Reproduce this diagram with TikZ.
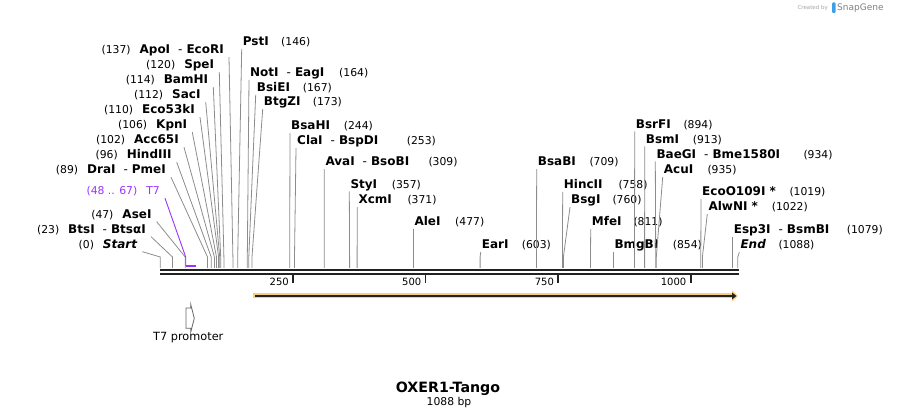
\documentclass[tikz,border=0pt]{standalone}
\usepackage{fontspec}
\setmainfont{DejaVu Sans}
\usetikzlibrary{arrows.meta}
\definecolor{leadgray}{RGB}{140,140,140}
\definecolor{seqdark}{RGB}{34,34,34}
\definecolor{tpurple}{RGB}{153,51,255}
\definecolor{tangoband}{RGB}{250,205,120}
\definecolor{snapblue}{RGB}{60,160,230}
\newcommand{\bpnum}[1]{{\mdseries\fontsize{10.8}{12}\selectfont(#1)}}
\newcommand{\enzdash}{\hspace{8pt}{\mdseries-}\hspace{4pt}}
\tikzset{rlab/.style={anchor=base west,inner xsep=1pt,inner ysep=0pt,text depth=3pt,font=\fontsize{12}{13}\selectfont\bfseries}}
\tikzset{llab/.style={anchor=base east,inner xsep=5pt,inner ysep=0pt,text depth=3pt,font=\fontsize{12}{13}\selectfont\bfseries}}
\tikzset{num/.style={anchor=base west,inner sep=0pt,font=\fontsize{10.8}{12}\selectfont}}
\tikzset{lead/.style={draw=leadgray,line width=0.8pt,to path={-- ([yshift=11pt]\tikztotarget) -- (\tikztotarget)}}}
\tikzset{seq/.style={draw=seqdark,line width=2.4pt}}
\tikzset{sctick/.style={draw=seqdark,line width=1.8pt}}
\tikzset{ticklab/.style={anchor=base east,inner sep=0pt,font=\fontsize{10}{12}\selectfont}}

\begin{document}
\begin{tikzpicture}[x=1pt,y=-1pt]
\useasboundingbox (0,0) rectangle (899,419);

% sequence
\coordinate (seqL) at (160,270);
\coordinate (seqR) at (738.5,270);
\draw[seq] (seqL) -- (seqR);
\draw[seq] ([yshift=-4.3pt]seqL) -- ([yshift=-4.3pt]seqR);

\coordinate (t250) at (292.9,275); \coordinate (t500) at (425.5,275);
\coordinate (t750) at (558.1,275); \coordinate (t1000) at (690.8,275);
\draw[sctick] (t250) -- ++(0,8);
\draw[sctick] (t500) -- ++(0,8);
\draw[sctick] (t750) -- ++(0,8);
\draw[sctick] (t1000) -- ++(0,8);
\node[ticklab] (l250) at (289,285.5) {250};
\node[ticklab] (l500) at (421.5,285.5) {500};
\node[ticklab] (l750) at (554.1,285.5) {750};
\node[ticklab] (l1000) at (686.5,285.5) {1000};

% cut sites
\coordinate (s0) at (160.3,268); \coordinate (s23) at (172.5,268);
\coordinate (s47) at (185.2,268); \coordinate (s89) at (207.5,268);
\coordinate (s96) at (211.2,268); \coordinate (s102) at (214.4,268);
\coordinate (s106) at (216.5,268); \coordinate (s110) at (218.6,268);
\coordinate (s112) at (219.7,268); \coordinate (s114) at (220.7,268);
\coordinate (s120) at (223.9,268); \coordinate (s137) at (232.9,268);
\coordinate (s146) at (237.7,268); \coordinate (s164) at (247.3,268);
\coordinate (s167) at (248.8,268); \coordinate (s173) at (252.0,268);
\coordinate (s244) at (289.7,268); \coordinate (s253) at (294.5,268);
\coordinate (s309) at (324.2,268); \coordinate (s357) at (349.6,268);
\coordinate (s371) at (357.1,268); \coordinate (s477) at (413.3,268);
\coordinate (s603) at (480.1,268); \coordinate (s709) at (536.4,268);
\coordinate (s758) at (562.4,268); \coordinate (s760) at (563.4,268);
\coordinate (s811) at (590.5,268); \coordinate (s854) at (613.3,268);
\coordinate (s894) at (634.5,268); \coordinate (s913) at (644.6,268);
\coordinate (s934) at (655.7,268); \coordinate (s935) at (656.3,268);
\coordinate (s1019) at (700.8,268); \coordinate (s1022) at (702.4,268);
\coordinate (s1079) at (732.7,268); \coordinate (s1088) at (737.8,268);

% left cluster
\node[llab] (apoI) at (229,54) {\bpnum{137}\hspace{9pt}ApoI\enzdash EcoRI};
\node[llab] (speI) at (219.3,69) {\bpnum{120}\hspace{9pt}SpeI};
\node[llab] (bamHI) at (213.3,84) {\bpnum{114}\hspace{9pt}BamHI};
\node[llab] (sacI) at (205.7,99) {\bpnum{112}\hspace{9pt}SacI};
\node[llab] (eco53kI) at (200,114) {\bpnum{110}\hspace{9pt}Eco53kI};
\node[llab] (kpnI) at (192.3,129) {\bpnum{106}\hspace{9pt}KpnI};
\node[llab] (acc65I) at (184,144) {\bpnum{102}\hspace{9pt}Acc65I};
\node[llab] (hindIII) at (176.7,159) {\bpnum{96}\hspace{9pt}HindIII};
\node[llab] (draI) at (171,174) {\bpnum{89}\hspace{9pt}DraI\enzdash PmeI};
\node[llab] (aseI) at (156.7,218.5) {\bpnum{47}\hspace{9pt}AseI};
\node[llab] (btsI) at (151,233.5) {\bpnum{23}\hspace{9pt}BtsI\enzdash BtsαI};
\node[llab] (start) at (142.3,248.5) {\bpnum{0}\hspace{9pt}\itshape Start};
\draw[lead] (apoI.south east) to (s137);
\draw[lead] (speI.south east) to (s120);
\draw[lead] (bamHI.south east) to (s114);
\draw[lead] (sacI.south east) to (s112);
\draw[lead] (eco53kI.south east) to (s110);
\draw[lead] (kpnI.south east) to (s106);
\draw[lead] (acc65I.south east) to (s102);
\draw[lead] (hindIII.south east) to (s96);
\draw[lead] (draI.south east) to (s89);
\draw[lead] (aseI.south east) to (s47);
\draw[lead] (btsI.south east) to (s23);
\draw[lead] (start.south east) to (s0);

% T7 primer site
\coordinate (t7a) at (185.7,266); \coordinate (t7b) at (195.8,266);
\node[llab,text=tpurple,font=\fontsize{10.8}{12}\selectfont] (t7lab) at (165,195) {(48 .. 67)\hspace{9pt}T7};
\draw[tpurple,line width=0.9pt] (t7lab.south east) -- ([yshift=9pt]t7a) -- (t7a);
\draw[tpurple,line width=1.8pt] (t7a) -- (t7b);

% right-hand sites
\node[rlab] (pstI) at (241.7,46) {PstI}; \node[num] (pstIn) at (281,46) {(146)};
\node[rlab] (notI) at (249,76.7) {NotI\enzdash EagI}; \node[num] (notIn) at (339,76.7) {(164)};
\node[rlab] (bsiEI) at (255.7,91.7) {BsiEI}; \node[num] (bsiEIn) at (302.7,91.7) {(167)};
\node[rlab] (btgZI) at (262.7,106) {BtgZI}; \node[num] (btgZIn) at (312.7,106) {(173)};
\node[rlab] (bsaHI) at (290,130) {BsaHI}; \node[num] (bsaHIn) at (343.7,130) {(244)};
\node[rlab] (claI) at (296,145) {ClaI\enzdash BspDI}; \node[num] (claIn) at (406.7,145) {(253)};
\node[rlab] (avaI) at (324.3,166) {AvaI\enzdash BsoBI}; \node[num] (avaIn) at (428.3,166) {(309)};
\node[rlab] (styI) at (349.3,188.3) {StyI}; \node[num] (styIn) at (391.7,188.3) {(357)};
\node[rlab] (xcmI) at (357.3,204) {XcmI}; \node[num] (xcmIn) at (407.3,204) {(371)};
\node[rlab] (aleI) at (413.3,226) {AleI}; \node[num] (aleIn) at (455,226) {(477)};
\node[rlab] (earI) at (480.7,249) {EarI}; \node[num] (earIn) at (521.7,249) {(603)};
\node[rlab] (bsaBI) at (536.7,166) {BsaBI}; \node[num] (bsaBIn) at (589.3,166) {(709)};
\node[rlab] (hincII) at (562.7,189) {HincII}; \node[num] (hincIIn) at (618.3,189) {(758)};
\node[rlab] (bsgI) at (570,204) {BsgI}; \node[num] (bsgIn) at (612.3,204) {(760)};
\node[rlab] (mfeI) at (590.7,226) {MfeI}; \node[num] (mfeIn) at (633.3,226) {(811)};
\node[rlab] (bmgBI) at (613.3,249) {BmgBI}; \node[num] (bmgBIn) at (672.7,249) {(854)};
\node[rlab] (bsrFI) at (634.7,128.3) {BsrFI}; \node[num] (bsrFIn) at (683.3,128.3) {(894)};
\node[rlab] (bsmI) at (644.7,143.3) {BsmI}; \node[num] (bsmIn) at (692.7,143.3) {(913)};
\node[rlab] (baeGI) at (655.3,158.3) {BaeGI\enzdash Bme1580I}; \node[num] (baeGIn) at (803.3,158.3) {(934)};
\node[rlab] (acuI) at (662.7,174) {AcuI}; \node[num] (acuIn) at (707.3,174) {(935)};
\node[rlab] (ecoO109I) at (701,195.7) {EcoO109I *}; \node[num] (ecoO109In) at (789.3,195.7) {(1019)};
\node[rlab] (alwNI) at (707.3,210.7) {AlwNI *}; \node[num] (alwNIn) at (771.7,210.7) {(1022)};
\node[rlab] (esp3I) at (732.7,234) {Esp3I\enzdash BsmBI}; \node[num] (esp3In) at (846.7,234) {(1079)};
\node[rlab] (endl) at (739.3,249) {\itshape End}; \node[num] (endn) at (778.3,249) {(1088)};
\draw[lead] (pstI.south west) to (s146);
\draw[lead] (notI.south west) to (s164);
\draw[lead] (bsiEI.south west) to (s167);
\draw[lead] (btgZI.south west) to (s173);
\draw[lead] (bsaHI.south west) to (s244);
\draw[lead] (claI.south west) to (s253);
\draw[lead] (avaI.south west) to (s309);
\draw[lead] (styI.south west) to (s357);
\draw[lead] (xcmI.south west) to (s371);
\draw[lead] (aleI.south west) to (s477);
\draw[lead] (earI.south west) to (s603);
\draw[lead] (bsaBI.south west) to (s709);
\draw[lead] (hincII.south west) to (s758);
\draw[lead] (bsgI.south west) to (s760);
\draw[lead] (mfeI.south west) to (s811);
\draw[lead] (bmgBI.south west) to (s854);
\draw[lead] (bsrFI.south west) to (s894);
\draw[lead] (bsmI.south west) to (s913);
\draw[lead] (baeGI.south west) to (s934);
\draw[lead] (acuI.south west) to (s935);
\draw[lead] (ecoO109I.south west) to (s1019);
\draw[lead] (alwNI.south west) to (s1022);
\draw[lead] (esp3I.south west) to (s1079);
\draw[lead] (endl.south west) to (s1088);

% Tango feature
\coordinate (tgS) at (253.3,296); \coordinate (tgE) at (738,296);
\draw[tangoband,line width=5pt,-{Triangle[length=6pt,width=11pt]}] (tgS) -- (tgE);
\draw[seqdark,line width=1.6pt,-{Triangle[length=4.5pt,width=6.5pt]}] ([xshift=2pt]tgS) -- ([xshift=-1.5pt]tgE);

% T7 promoter
\draw[black!60,line width=0.8pt,fill=white] (186,308) -- (190.7,308) -- (190.7,304.3) -- (194.3,318.3) -- (190.7,332.3) -- (190.7,328.3) -- (186,328.3) -- cycle;
\node[anchor=base,inner sep=0pt,font=\fontsize{11.3}{12}\selectfont] (t7prom) at (188.3,341) {T7 promoter};

% title
\node[anchor=base,inner sep=0pt,font=\fontsize{14.2}{16}\selectfont\bfseries] (title) at (448,392) {OXER1-Tango};
\node[anchor=base,inner sep=0pt,font=\fontsize{10.8}{12}\selectfont] (len) at (449,405) {1088 bp};

% credit
\node[anchor=base east,inner sep=0pt,text=black!35,font=\fontsize{5.5}{6}\selectfont] (credit) at (828,10) {Created by};
\fill[snapblue,rounded corners=1pt] (832,2.5) rectangle (835.5,13);
\node[anchor=base west,inner sep=0pt,text=black!50,font=\fontsize{9}{10}\selectfont] (snap) at (837,11) {SnapGene};
\end{tikzpicture}
\end{document}
